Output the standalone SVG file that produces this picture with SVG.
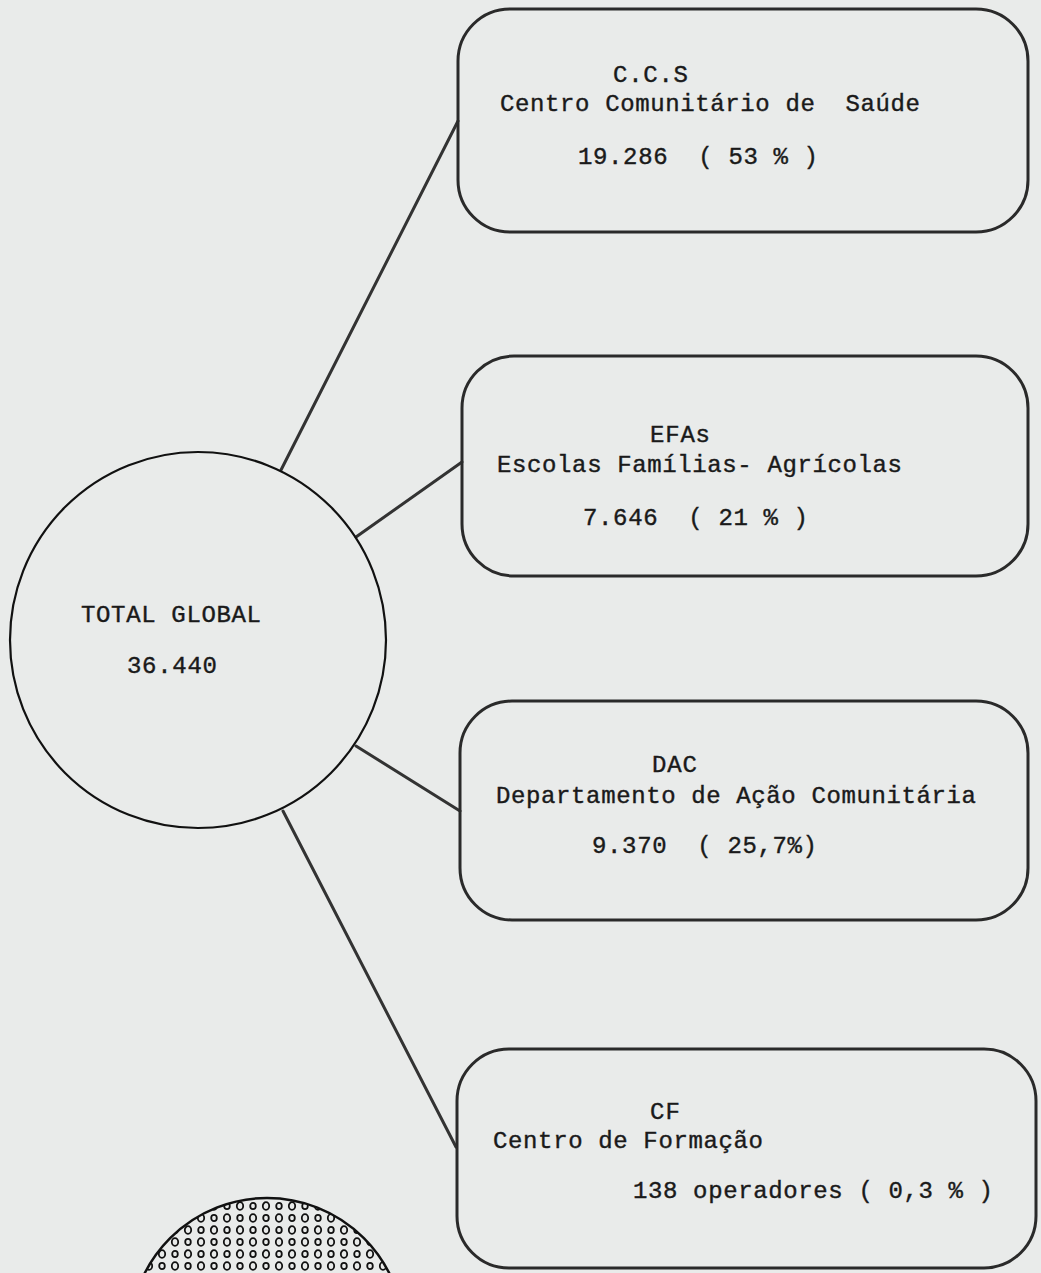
<svg xmlns="http://www.w3.org/2000/svg" width="1041" height="1273" viewBox="0 0 1041 1273">
  <defs>
    <style>
      .bg { fill: #e9ebea; }
      .box { fill: none; stroke: #2a2a2a; stroke-width: 3; }
      .hub { fill: none; stroke: #111; stroke-width: 2.2; }
      .conn { fill: none; stroke: #333; stroke-width: 3; stroke-linecap: round; }
      .t { font-family: "Liberation Mono", "Courier New", monospace; font-size: 24px; fill: #1a1a1a; stroke: #1a1a1a; stroke-width: 0.4; }
      .dot { fill: none; stroke: #111; stroke-width: 1.8; }
    </style>
    <pattern id="dots" x="0" y="0" width="26" height="24" patternUnits="userSpaceOnUse">
      <ellipse class="dot" cx="6" cy="6" rx="3.2" ry="3.8"/>
      <ellipse class="dot" cx="19" cy="18" rx="3.2" ry="3.8"/>
      <ellipse class="dot" cx="19" cy="6" rx="2.8" ry="3.2"/>
      <ellipse class="dot" cx="6" cy="18" rx="2.8" ry="3.2"/>
    </pattern>
  </defs>
  <rect class="bg" x="0" y="0" width="1041" height="1273"/>

  <g id="connectors">
    <line class="conn" x1="281" y1="470" x2="458" y2="121"/>
    <line class="conn" x1="356" y1="537" x2="462" y2="462"/>
    <line class="conn" x1="356" y1="746" x2="460" y2="811"/>
    <line class="conn" x1="283" y1="811" x2="456" y2="1147"/>
  </g>

  <g id="total-global">
    <circle class="hub" cx="198" cy="640" r="188"/>
    <text class="t" x="81" y="622" textLength="180">TOTAL GLOBAL</text>
    <text class="t" x="127" y="673" textLength="90">36.440</text>
  </g>

  <g id="ccs">
    <rect class="box" x="458" y="9" width="570" height="223" rx="52" ry="52"/>
    <text class="t" x="613" y="82" textLength="75">C.C.S</text>
    <text class="t" x="500" y="111" textLength="420" xml:space="preserve">Centro Comunitário de  Saúde</text>
    <text class="t" x="578" y="164" textLength="240" xml:space="preserve">19.286  ( 53 % )</text>
  </g>

  <g id="efas">
    <rect class="box" x="462" y="356" width="566" height="220" rx="52" ry="52"/>
    <text class="t" x="650" y="442" textLength="60">EFAs</text>
    <text class="t" x="497" y="472" textLength="405">Escolas Famílias- Agrícolas</text>
    <text class="t" x="583" y="525" textLength="225" xml:space="preserve">7.646  ( 21 % )</text>
  </g>

  <g id="dac">
    <rect class="box" x="460" y="701" width="568" height="219" rx="52" ry="52"/>
    <text class="t" x="652" y="772" textLength="45">DAC</text>
    <text class="t" x="496" y="803" textLength="480">Departamento de Ação Comunitária</text>
    <text class="t" x="592" y="853" textLength="225" xml:space="preserve">9.370  ( 25,7%)</text>
  </g>

  <g id="cf">
    <rect class="box" x="457" y="1049" width="579" height="219" rx="52" ry="52"/>
    <text class="t" x="650" y="1119" textLength="30">CF</text>
    <text class="t" x="493" y="1148" textLength="270">Centro de Formação</text>
    <text class="t" x="633" y="1198" textLength="360">138 operadores ( 0,3 % )</text>
  </g>

  <g id="dotted-circle">
    <circle cx="267" cy="1335" r="137" fill="url(#dots)" stroke="#111" stroke-width="2.5"/>
  </g>
</svg>
